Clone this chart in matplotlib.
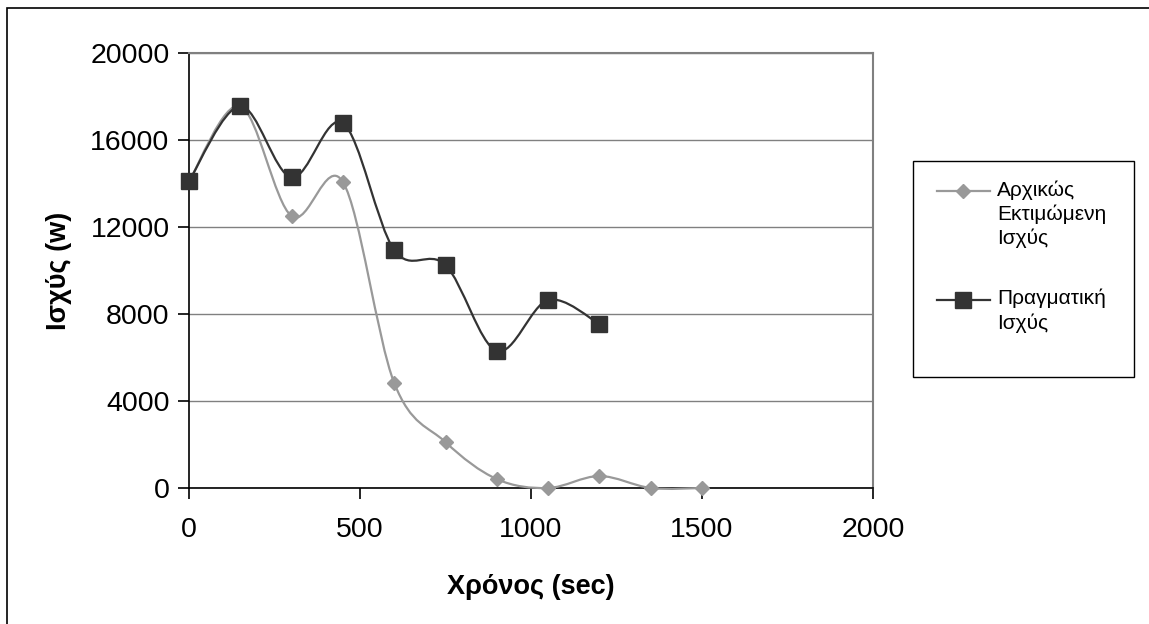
import numpy as np
import matplotlib
matplotlib.use('Agg')
import matplotlib.pyplot as plt
from matplotlib.path import Path
from matplotlib.patches import PathPatch, Rectangle
from matplotlib.lines import Line2D

plt.rcParams['font.family'] = ['Liberation Sans', 'DejaVu Sans']

# time steps (sec)
t_est = [0, 150, 300, 450, 600, 750, 900, 1050, 1200, 1350, 1500]
p_est = [14100, 17560, 12500, 14070, 4830, 2110, 410, 0, 550, 0, 0]

t_real = [0, 150, 300, 450, 600, 750, 900, 1050, 1200]
p_real = [14110, 17560, 14280, 16780, 10940, 10250, 6300, 8640, 7540]

label_est = 'Αρχικώς\nΕκτιμώμενη\nΙσχύς'
label_real = 'Πραγματική\nΙσχύς'

c_est = '#999999'
c_real = '#333333'


def smooth_path(x, y):
    # bezier segments like the spreadsheet "smoothed line" option
    pts = np.column_stack([x, y]).astype(float)
    n = len(pts)
    verts = [pts[0]]
    codes = [Path.MOVETO]
    for i in range(n - 1):
        p0 = pts[i - 1] if i > 0 else pts[i]
        p1 = pts[i]
        p2 = pts[i + 1]
        p3 = pts[i + 2] if i + 2 < n else pts[i + 1]
        verts += [p1 + (p2 - p0) / 6.0, p2 - (p3 - p1) / 6.0, p2]
        codes += [Path.CURVE4] * 3
    return Path(verts, codes)


fig = plt.figure(figsize=(11.49, 6.24), dpi=100)
ax = fig.add_axes([189 / 1149, 1 - 488 / 624, (873 - 189) / 1149, (488 - 53) / 624])

for t, p, c in [(t_est, p_est, c_est), (t_real, p_real, c_real)]:
    ax.add_patch(PathPatch(smooth_path(t, p), facecolor='none', edgecolor=c,
                           linewidth=1.6, zorder=3, clip_on=False))

ax.plot(t_est, p_est, linestyle='none', marker='D', markersize=7, color=c_est,
        markeredgecolor=c_est, zorder=4, clip_on=False)
ax.plot(t_real, p_real, linestyle='none', marker='s', markersize=11, color=c_real,
        markeredgecolor=c_real, zorder=5, clip_on=False)

ax.set_xlim(0, 2000)
ax.set_ylim(0, 20000)
ax.set_xticks([0, 500, 1000, 1500, 2000])
ax.set_yticks([0, 4000, 8000, 12000, 16000, 20000])
ax.yaxis.grid(True, color='#808080', linewidth=1.0)
ax.set_axisbelow(True)

for s in ['top', 'right']:
    ax.spines[s].set_color('#808080')
    ax.spines[s].set_linewidth(1.5)
for s in ['left', 'bottom']:
    ax.spines[s].set_color('black')
    ax.spines[s].set_linewidth(1.2)

ax.tick_params(axis='both', direction='out', length=8, width=1.2, labelsize=20.5, color='black')
ax.tick_params(axis='x', pad=13)
ax.tick_params(axis='y', pad=6)

ax.set_xlabel('Χρόνος (sec)', fontsize=19.5, fontweight='bold', labelpad=22)
ax.set_ylabel('Ισχύς (w)', fontsize=19.5, fontweight='bold', labelpad=13)

# legend box drawn by hand so the markers sit on the first text line
W, H = 1149.0, 624.0
fig.patches.append(Rectangle((913 / W, 1 - 377 / H), (1134 - 913) / W, (377 - 161) / H,
                             transform=fig.transFigure, facecolor='white',
                             edgecolor='black', linewidth=1.0))
for yy, c, m, ms, lab in [(191, c_est, 'D', 7, label_est), (300, c_real, 's', 11, label_real)]:
    fig.add_artist(Line2D([937 / W, 990 / W], [1 - yy / H] * 2, color=c, linewidth=1.6,
                          transform=fig.transFigure))
    fig.add_artist(Line2D([963 / W], [1 - yy / H], color=c, marker=m, markersize=ms,
                          linestyle='none', transform=fig.transFigure))
    fig.text(997 / W, 1 - (yy - 11) / H, lab, fontsize=15, va='top', ha='left',
             linespacing=1.3)

# outer chart border
fig.patches.append(Rectangle((7 / W, -0.05), 1.5, 1 - 8 / H + 0.05, transform=fig.transFigure,
                             facecolor='none', edgecolor='black', linewidth=1.2))

fig.savefig('out.png', dpi=100)
